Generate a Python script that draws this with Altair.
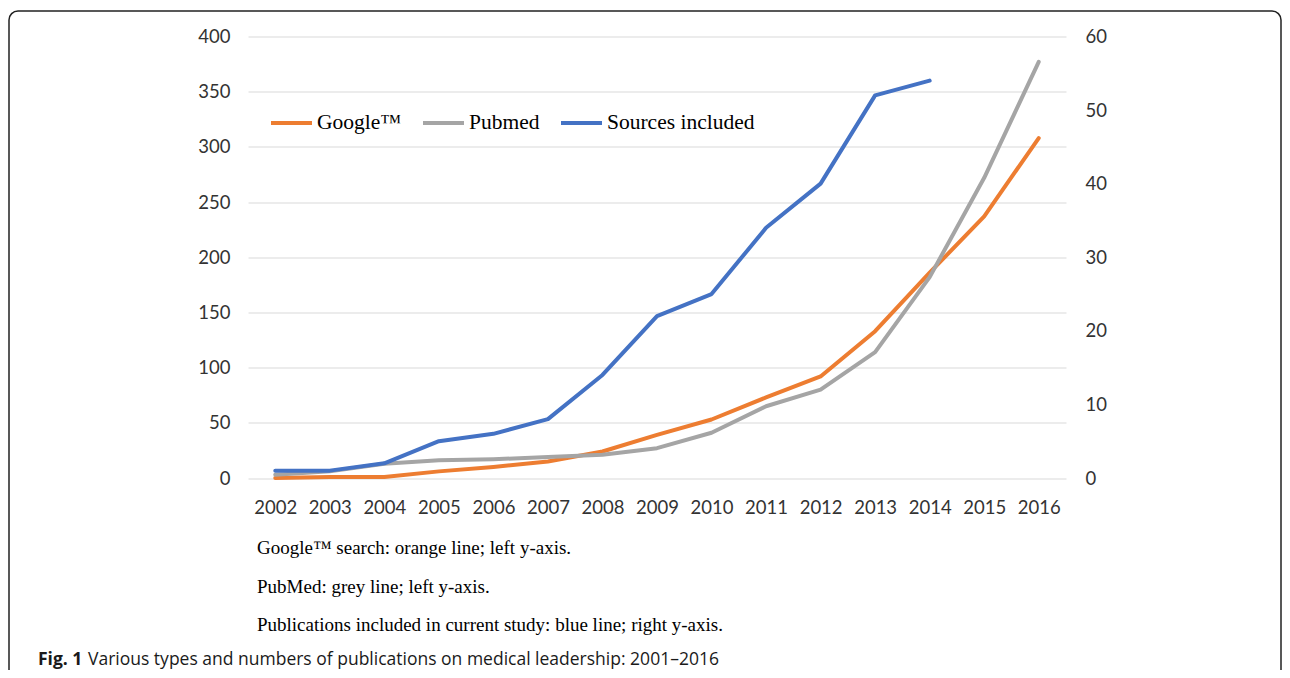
import altair as alt
import pandas as pd

# ---- data ----
years = [str(y) for y in range(2002, 2017)]
google = [0, 1, 1, 6, 10, 15, 24, 39, 53, 73, 92, 133, 186, 237, 308]
pubmed = [3, 6, 13, 16, 17, 19, 21, 27, 41, 65, 80, 114, 182, 272, 377]
sources = [1, 1, 2, 5, 6, 8, 14, 22, 25, 34, 40, 52, 54]  # 2002-2014

series_names = ["Google™", "Pubmed", "Sources included"]
series_colors = ["#ED7D31", "#A5A5A5", "#4472C4"]
left_ticks = [0, 50, 100, 150, 200, 250, 300, 350, 400]
right_ticks = [0, 10, 20, 30, 40, 50, 60]

captions = [
    "Google™ search: orange line; left y-axis.",
    "PubMed: grey line; left y-axis.",
    "Publications included in current study: blue line; right y-axis.",
]
fig_label = "Fig. 1"
fig_caption = "Various types and numbers of publications on medical leadership: 2001–2016"

# ---- tables ----
left_df = pd.DataFrame({
    "year": years + years,
    "value": google + pubmed,
    "series": [series_names[0]] * len(years) + [series_names[1]] * len(years),
})
right_df = pd.DataFrame({
    "year": years[: len(sources)],
    "value": sources,
    "series": [series_names[2]] * len(sources),
})

AX_FONT = "Lato"
AX_SIZE = 18.5
AX_COLOR = "#333333"

legend = alt.Legend(
    title=None, orient="none", legendX=21, legendY=64, direction="horizontal",
    symbolType="stroke", symbolSize=1681, symbolStrokeWidth=4,
    labelFont="Liberation Serif", labelFontSize=21.5, labelColor="black",
    labelOffset=3, columnPadding=13, padding=0, labelLimit=400,
)
color = alt.Color("series:N", scale=alt.Scale(domain=series_names, range=series_colors), legend=legend)

x_enc = alt.X(
    "year:O", title=None, scale=alt.Scale(padding=0.5),
    axis=alt.Axis(labelAngle=0, domain=False, ticks=False, tickSize=0, labelPadding=20,
                  labelFont=AX_FONT, labelFontSize=AX_SIZE, labelColor=AX_COLOR, grid=False),
)

line_style = dict(strokeWidth=4, strokeCap="round", strokeJoin="round")

left = alt.Chart(left_df).mark_line(**line_style).encode(
    x=x_enc,
    y=alt.Y("value:Q", title=None, scale=alt.Scale(domain=[0, 400], nice=False),
            axis=alt.Axis(orient="left", values=left_ticks, grid=True, gridColor="#D9D9D9",
                          gridWidth=1.2, domain=False, ticks=False, tickSize=0, labelPadding=18,
                          labelFont=AX_FONT, labelFontSize=AX_SIZE, labelColor=AX_COLOR)),
    color=color,
    detail="series:N",
)

right = alt.Chart(right_df).mark_line(**line_style).encode(
    x=x_enc,
    y=alt.Y("value:Q", title=None, scale=alt.Scale(domain=[0, 60], nice=False),
            axis=alt.Axis(orient="right", values=right_ticks, grid=False, domain=False,
                          ticks=False, tickSize=0, labelPadding=19,
                          labelFont=AX_FONT, labelFontSize=AX_SIZE, labelColor=AX_COLOR)),
    color=color,
)

def text_layer(txt, xv, yv, **kw):
    return alt.Chart(pd.DataFrame({"t": [txt]})).mark_text(
        align="left", baseline="middle", **kw
    ).encode(text="t:N", x=alt.value(xv), y=alt.value(yv))

cap_layers = [
    text_layer(captions[0], 9, 511.5, font="Liberation Serif", fontSize=19, color="black"),
    text_layer(captions[1], 9, 550.5, font="Liberation Serif", fontSize=19, color="black"),
    text_layer(captions[2], 9, 588.5, font="Liberation Serif", fontSize=19, color="black"),
    text_layer(fig_label, -210, 623.5, font="Open Sans", fontSize=17.5, fontWeight="bold", color="#1a1a1a"),
    text_layer(fig_caption, -160, 623.5, font="Open Sans", fontSize=17.5, color="#1a1a1a"),
]

border = alt.Chart(pd.DataFrame({"k": [0]})).mark_rect(
    cornerRadius=9, stroke="#222222", strokeWidth=1.5, fill="white", fillOpacity=0
).encode(x=alt.value(-239), x2=alt.value(1033), y=alt.value(-25.5), y2=alt.value(700))

chart = alt.layer(border, left, right, *cap_layers).resolve_scale(
    y="independent", color="shared", x="shared"
).properties(
    width=818, height=441.5,
    padding={"left": 240, "top": 28.5, "right": 216, "bottom": 192},
    autosize=alt.AutoSizeParams(type="none"),
    background="white",
).configure_view(stroke=None)

chart.save("out.html", embed_options={"renderer": "svg", "actions": False})
